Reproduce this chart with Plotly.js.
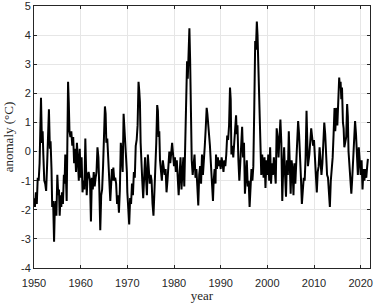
<!DOCTYPE html>
<html>
<head>
<meta charset="utf-8">
<script src="https://cdn.plot.ly/plotly-3.0.1.min.js"></script>
<style>html,body{margin:0;padding:0;background:#fff;}#chart{width:374px;height:303px;}</style>
</head>
<body>
<div id="chart"></div>
<script>
// decimal year of each reading
const years = [
1950.0,1950.2,1950.4,1950.6,1950.8,
1951.0,1951.2,1951.4,1951.5,1951.7,1951.85,
1952.0,1952.2,1952.4,1952.6,1952.8,
1953.0,1953.2,1953.4,1953.55,1953.75,1953.9,
1954.1,1954.3,1954.45,1954.6,1954.8,
1955.0,1955.2,1955.35,1955.5,1955.7,1955.85,
1956.0,1956.2,1956.4,1956.55,1956.7,1956.85,
1957.0,1957.15,1957.3,1957.45,1957.6,1957.8,
1958.0,1958.2,1958.4,1958.6,1958.8,
1959.0,1959.2,1959.4,1959.6,1959.8,
1960.0,1960.2,1960.4,1960.6,1960.8,
1961.0,1961.15,1961.3,1961.5,1961.7,
1962.0,1962.2,1962.4,1962.6,1962.8,
1963.0,1963.2,1963.4,1963.6,1963.8,
1964.0,1964.2,1964.4,1964.6,1964.8,
1965.0,1965.2,1965.35,1965.5,1965.7,
1966.0,1966.2,1966.35,1966.5,1966.7,1966.9,
1967.0,1967.2,1967.4,1967.6,1967.8,
1968.0,1968.2,1968.4,1968.6,1968.8,
1969.0,1969.2,1969.35,1969.5,1969.7,1969.9,
1970.0,1970.2,1970.4,1970.6,1970.8,
1971.0,1971.2,1971.4,1971.6,1971.8,
1972.0,1972.2,1972.4,1972.55,1972.7,1972.85,
1973.0,1973.2,1973.4,1973.6,1973.8,
1974.0,1974.2,1974.4,1974.6,1974.8,
1975.0,1975.2,1975.4,1975.6,1975.8,
1976.0,1976.2,1976.4,1976.55,1976.7,1976.85,
1977.0,1977.2,1977.4,1977.6,1977.8,
1978.0,1978.2,1978.4,1978.6,1978.8,
1979.0,1979.2,1979.4,1979.6,1979.8,
1980.0,1980.2,1980.4,1980.6,1980.8,
1981.0,1981.2,1981.4,1981.6,1981.8,
1982.0,1982.2,1982.4,1982.6,1982.8,1982.95,
1983.1,1983.3,1983.45,1983.6,1983.8,
1984.0,1984.2,1984.4,1984.6,1984.8,
1985.0,1985.2,1985.4,1985.6,1985.8,
1986.0,1986.2,1986.4,1986.6,1986.8,
1987.0,1987.15,1987.3,1987.5,1987.7,1987.9,
1988.0,1988.2,1988.35,1988.5,1988.7,1988.9,
1989.0,1989.2,1989.4,1989.6,1989.8,
1990.0,1990.2,1990.4,1990.6,1990.8,
1991.0,1991.2,1991.4,1991.6,1991.8,
1992.0,1992.15,1992.3,1992.5,1992.7,1992.9,
1993.1,1993.3,1993.45,1993.6,1993.8,
1994.0,1994.2,1994.4,1994.6,1994.8,
1995.0,1995.2,1995.4,1995.6,1995.8,
1996.0,1996.2,1996.4,1996.6,1996.8,
1997.0,1997.2,1997.4,1997.55,1997.75,1997.9,
1998.1,1998.25,1998.4,1998.55,1998.7,1998.9,
1999.0,1999.2,1999.4,1999.6,1999.8,
2000.0,2000.2,2000.4,2000.6,2000.8,
2001.0,2001.2,2001.4,2001.6,2001.8,
2002.0,2002.2,2002.4,2002.6,2002.8,
2003.0,2003.2,2003.4,2003.6,2003.8,
2004.0,2004.2,2004.4,2004.6,2004.8,
2005.0,2005.2,2005.4,2005.6,2005.8,
2006.0,2006.2,2006.4,2006.6,2006.8,
2007.0,2007.2,2007.4,2007.6,2007.8,
2008.0,2008.2,2008.4,2008.55,2008.7,
2009.0,2009.2,2009.4,2009.6,2009.8,
2010.0,2010.2,2010.4,2010.6,2010.8,
2011.0,2011.2,2011.4,2011.6,2011.8,
2012.0,2012.2,2012.4,2012.6,2012.8,
2013.0,2013.2,2013.4,2013.6,2013.8,
2014.0,2014.2,2014.4,2014.55,2014.7,2014.85,
2015.0,2015.2,2015.4,2015.55,2015.7,2015.85,
2016.0,2016.2,2016.35,2016.5,2016.7,2016.9,
2017.1,2017.25,2017.4,2017.6,2017.8,
2018.0,2018.2,2018.4,2018.6,2018.8,
2019.0,2019.2,2019.4,2019.6,2019.8,
2020.0,2020.2,2020.4,2020.6,2020.8,
2021.0,2021.2,2021.4,2021.55
];
// anomaly (°C)
const anomaly = [
-1.6,-1.9,-1.4,-1.8,-0.9,
-1.0,-0.4,1.2,1.85,0.3,0.7,
-0.1,-1.0,-1.1,-1.35,-0.5,
0.3,1.45,0.1,0.35,-0.6,-1.9,
-1.7,-3.1,-2.0,-1.7,-2.2,
-0.8,-1.5,-1.3,-2.2,-1.5,-1.9,
-1.4,-1.8,-0.8,-1.1,-0.1,-0.9,
-1.7,0.3,2.4,1.7,0.7,0.5,
0.7,0.2,0.5,-0.4,0.1,
-0.7,0.3,-0.3,-1.0,0.1,
-0.9,-0.2,-1.4,-1.0,-1.3,
0.45,-0.6,-1.5,-0.8,-0.7,
-1.0,-2.4,-0.9,-1.3,-0.7,
-1.2,-0.9,-0.7,0.15,-0.2,
-1.3,-2.7,-1.5,-1.3,-0.5,
0.5,1.55,1.3,0.3,0.45,
-0.3,-1.2,-1.7,-1.1,-0.6,-1.0,
-0.55,-1.0,-0.9,-1.1,-1.8,
-1.5,-2.1,-1.3,0.3,-0.1,
-0.7,1.3,0.9,0.6,-0.2,-0.7,
-1.4,-2.0,-2.5,-1.6,-1.8,
-1.1,-1.5,-0.7,-0.9,0.2,
0.4,0.9,2.4,2.1,1.7,0.3,
-0.6,-1.0,-1.6,-0.8,-0.2,
-0.9,-1.5,-0.1,-0.6,-1.1,
-0.8,-1.0,-1.8,-2.2,-1.4,
-0.7,0.3,1.6,1.4,0.5,0.7,
-0.3,-0.6,-1.0,-0.3,-0.5,
-0.8,-0.6,-1.4,-1.0,-0.3,
0.0,-0.4,0.1,0.3,-0.1,
-0.5,-0.2,-0.7,-0.3,-1.0,
-1.5,-0.8,-0.2,-1.3,-0.9,
-0.2,-1.2,0.3,2.4,3.1,2.5,
3.6,4.24,3.2,1.5,-0.3,
-0.8,-0.5,-0.1,-0.9,-0.6,
-1.2,-1.85,-0.8,-0.5,-1.1,
-0.1,-0.8,-0.4,0.2,0.8,
1.5,1.3,1.0,0.9,0.2,-0.4,
-0.8,-1.4,-1.7,-1.0,-0.6,-1.1,
-0.1,-0.6,-0.2,-0.5,-0.3,
-0.6,-0.2,-0.4,-0.7,-0.3,
-0.5,-0.1,0.55,0.4,0.9,
2.2,1.8,-0.1,0.2,-0.2,0.3,
0.7,1.25,0.6,0.9,-0.3,
-1.0,-0.4,0.2,0.85,-0.2,
0.3,-1.45,-0.6,-0.3,-1.2,
-1.0,-1.9,-1.1,-0.6,-1.0,
-0.5,1.5,3.8,3.5,4.47,4.0,
2.8,2.7,1.0,0.1,-0.8,-0.1,
-0.5,-0.9,-0.2,-1.25,-0.3,
-0.8,-0.1,-1.0,0.15,-1.1,
-0.4,-0.8,-0.2,-0.6,-1.1,
0.8,0.5,-0.2,0.4,1.1,
0.3,-1.7,-0.6,0.15,-0.8,
-1.55,-0.3,-0.8,0.7,-0.1,
-1.45,-0.3,-0.6,-1.5,-0.4,
-1.1,-0.5,0.3,1.05,0.6,
0.0,-0.9,-1.8,-1.2,-0.9,
-1.0,-0.2,1.4,0.7,-0.5,
-0.1,0.4,0.8,0.5,0.2,
0.4,-0.3,-1.0,-1.4,-0.7,
-0.5,0.15,-0.2,-0.8,-0.4,
0.3,1.0,0.6,-0.3,-0.8,
-0.9,-1.3,-1.9,-1.0,-0.7,
-0.2,0.6,1.5,0.7,1.2,1.5,
0.9,1.6,2.54,2.2,2.4,1.8,
2.2,1.0,0.8,0.15,0.3,0.5,
1.63,1.2,0.0,-0.5,-1.0,
-1.45,-0.9,-0.3,0.3,1.05,
0.6,0.0,-0.8,0.15,-0.3,
-0.8,-0.3,-1.3,-0.6,-1.0,
-0.6,-0.9,-0.5,-0.25
];
const xTicks = [1950,1960,1970,1980,1990,2000,2010,2020];
const yTicks = [-4,-3,-2,-1,0,1,2,3,4,5];

const axisCommon = {
  showline: true, linecolor: '#262626', linewidth: 1, mirror: 'ticks',
  ticks: 'inside', ticklen: 3, tickcolor: '#262626', tickwidth: 1,
  showgrid: true, gridcolor: '#e6e6e6', gridwidth: 1, zeroline: false,
  ticklabeloverflow: 'allow',
  tickfont: {family: 'Liberation Sans, Arial, sans-serif', size: 11, color: '#262626'}
};

Plotly.newPlot('chart', [{
  x: years, y: anomaly, type: 'scatter', mode: 'lines',
  line: {color: '#000000', width: 2}, hoverinfo: 'skip', cliponaxis: false
}], {
  width: 374, height: 303,
  margin: {l: 34, r: 4, t: 6, b: 35},
  paper_bgcolor: '#ffffff', plot_bgcolor: '#ffffff',
  showlegend: false,
  xaxis: Object.assign({}, axisCommon, {
    range: [1950, 2022], tickvals: xTicks, ticktext: xTicks.map(String),
    ticklabelstandoff: 5,
    title: {text: 'year', font: {family: 'Liberation Serif, serif', size: 13, color: '#262626'}, standoff: 1}
  }),
  yaxis: Object.assign({}, axisCommon, {
    range: [-4, 5.002], tickvals: yTicks, ticktext: yTicks.map(String),
    title: {text: 'anomaly (°C)', font: {family: 'Liberation Serif, serif', size: 13, color: '#262626'}, standoff: 4}
  })
}, {staticPlot: true, displayModeBar: false});
</script>
</body>
</html>
